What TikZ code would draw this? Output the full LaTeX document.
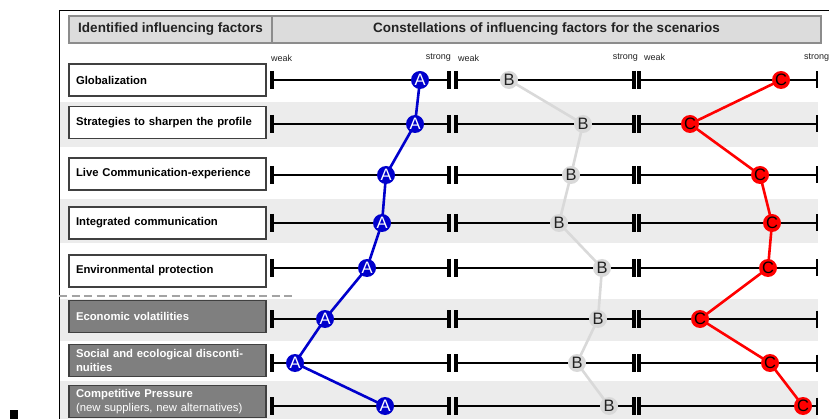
\documentclass[tikz,border=0pt]{standalone}
\usepackage{fontspec}
\setmainfont{Liberation Sans}
\usetikzlibrary{backgrounds}

\definecolor{hdrfill}{HTML}{DCDCDC}
\definecolor{hdrline}{HTML}{8C8C8C}
\definecolor{band}{HTML}{ECECEC}
\definecolor{boxline}{HTML}{404040}
\definecolor{darkbox}{HTML}{7F7F7F}
\definecolor{scA}{HTML}{0000CC}
\definecolor{scB}{HTML}{D9D9D9}
\definecolor{scC}{HTML}{FF0000}
\definecolor{txt}{HTML}{222222}

\pgfdeclarelayer{links}
\pgfsetlayers{background,links,main}

\tikzset{
  header/.style={draw=hdrline, line width=1.8pt, fill=hdrfill, text=txt,
    font=\fontsize{13.5}{15}\selectfont\bfseries, minimum height=27pt, inner sep=0pt},
  factor/.style={draw=boxline, line width=1.2pt, fill=white, text=black,
    minimum width=197pt, minimum height=32pt, text width=183pt, align=left,
    inner xsep=7pt, inner ysep=0pt, font=\fontsize{11.3}{14}\selectfont\bfseries},
  darkfactor/.style={factor, fill=darkbox, text=white},
  scaletext/.style={font=\fontsize{9}{10}\selectfont, text=txt, inner sep=0pt},
  scalebar/.style={line width=2pt, black},
  tickmark/.style={line width=3.2pt, black},
  marker/.style={circle, minimum size=18pt, inner sep=0pt,
    font=\fontsize{16.5}{17}\selectfont},
  markA/.style={marker, fill=scA, text=white},
  markB/.style={marker, fill=scB, text=txt},
  markC/.style={marker, fill=scC, text=black},
  linkA/.style={scA, line width=2.6pt, line join=round},
  linkB/.style={scB, line width=2.6pt, line join=round},
  linkC/.style={scC, line width=2.6pt, line join=round},
}

\begin{document}
\begin{tikzpicture}[x=1pt, y=-1pt]
\useasboundingbox (0,0) rectangle (829,419);

% alternating row bands
\begin{pgfonlayer}{background}
  \fill[band] (59,102) rectangle (818,147);
  \fill[band] (59,199) rectangle (818,243);
  \fill[band] (59,299) rectangle (818,341);
  \fill[band] (59,381) rectangle (818,419);
\end{pgfonlayer}

% outer frame
\draw[line width=1pt] (59.5,419) -- (59.5,10.5) -- (829,10.5);

% small mark at the lower left
\fill (10,410) rectangle (18,419);

% headers
\node[header, minimum width=203pt] (h1) at (170.5,29.5) {Identified influencing factors};
\node[header, minimum width=549pt] (h2) at (546.5,29.5) {Constellations of influencing factors for the scenarios};

% scale labels
\node[scaletext, anchor=west] (wk1) at (271,58) {weak};
\node[scaletext, anchor=east] (st1) at (451,58) {strong};
\node[scaletext, anchor=west] (wk2) at (458,58) {weak};
\node[scaletext, anchor=east] (st2) at (638,58) {strong};
\node[scaletext, anchor=west] (wk3) at (644,57) {weak};
\node[scaletext, anchor=west] (st3) at (804,58) {strong};

% influencing factors
\node[factor] (f1) at (167.5,80) {Globalization};
\node[factor] (f2) at (167.5,122.5) {Strategies to sharpen the profile};
\node[factor] (f3) at (167.5,174) {Live Communication-experience};
\node[factor] (f4) at (167.5,223) {Integrated communication};
\node[factor] (f5) at (167.5,271) {Environmental protection};
\node[darkfactor] (f6) at (167.5,316.5) {Economic volatilities};
\node[darkfactor] (f7) at (167.5,360.5) {Social and ecological disconti-\\nuities};
\node[darkfactor] (f8) at (167.5,401.5) {Competitive Pressure\\{\mdseries (new suppliers, new alternatives)}};

% separator between internal and external factors
\draw[hdrline!80, line width=1.3pt, dash pattern=on 8pt off 4.5pt] (59,296) -- (296,296);

% scale bars: three sections per factor
\foreach \y in {80,124,175,223,268,319,363,406} {
  \draw[scalebar] (272,\y) -- (449,\y);
  \draw[scalebar] (456,\y) -- (634,\y);
  \draw[scalebar] (639,\y) -- (817,\y);
  \draw[tickmark] (272,\y-9) -- (272,\y+9);
  \draw[tickmark] (449,\y-9) -- (449,\y+9);
  \draw[tickmark] (456,\y-9) -- (456,\y+9);
  \draw[tickmark] (634,\y-9) -- (634,\y+9);
  \draw[tickmark] (639,\y-9) -- (639,\y+9);
  \draw[line width=2.2pt] (817,\y-8.5) -- (817,\y+8.5);
}

% scenario markers
\foreach \n/\y/\a/\b/\c in {1/80/420/509/781, 2/124/415/583/690, 3/175/386/571/760,
    4/223/382/559/772, 5/268/367/602/768, 6/319/325/598/700,
    7/363/295/577/770, 8/406/385/609/803} {
  \node[markA] (A\n) at (\a,\y) {A};
  \node[markB] (B\n) at (\b,\y) {B};
  \node[markC] (C\n) at (\c,\y) {C};
}

% scenario profiles
\begin{pgfonlayer}{links}
  \draw[linkA] (A1.center) -- (A2.center) -- (A3.center) -- (A4.center)
    -- (A5.center) -- (A6.center) -- (A7.center) -- (A8.center);
  \draw[linkB] (B1.center) -- (B2.center) -- (B3.center) -- (B4.center)
    -- (B5.center) -- (B6.center) -- (B7.center) -- (B8.center);
  \draw[linkC] (C1.center) -- (C2.center) -- (C3.center) -- (C4.center)
    -- (C5.center) -- (C6.center) -- (C7.center) -- (C8.center);
\end{pgfonlayer}
\end{tikzpicture}
\end{document}
